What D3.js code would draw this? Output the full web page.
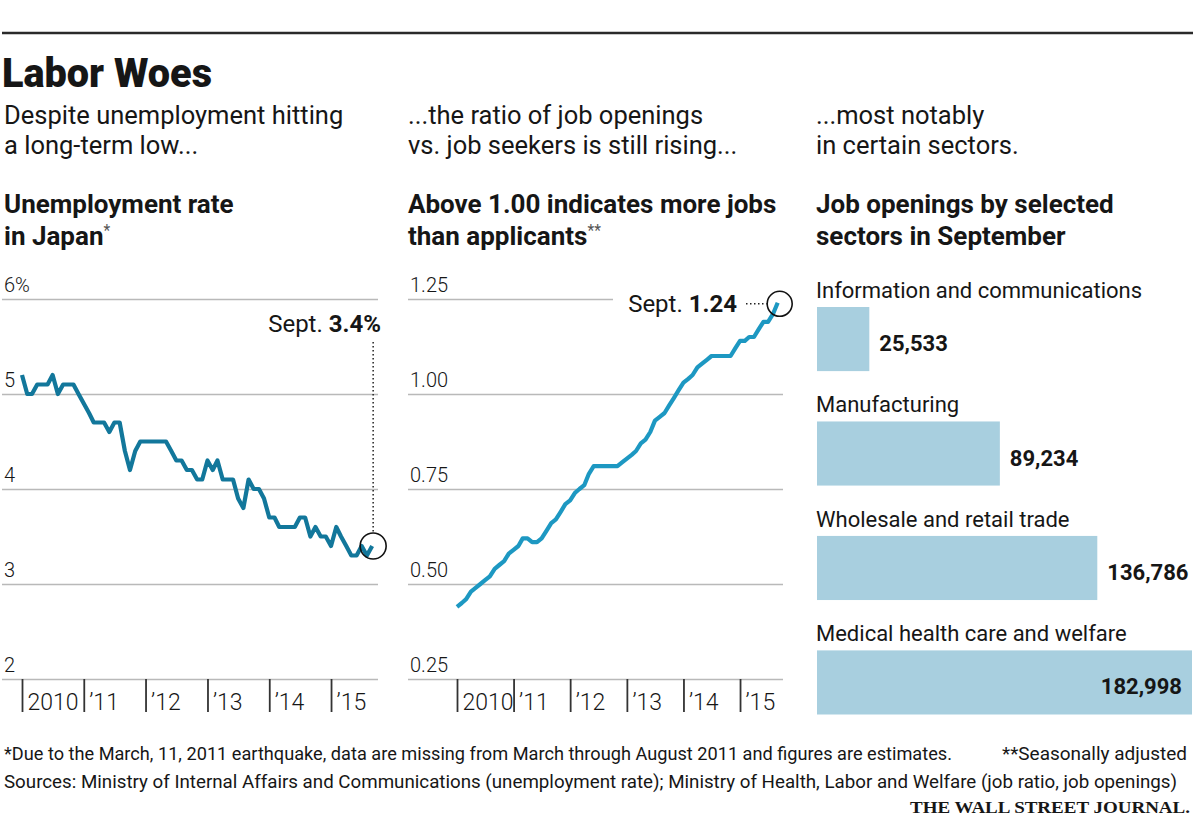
<!DOCTYPE html>
<html>
<head>
<meta charset="utf-8">
<script src="https://cdn.jsdelivr.net/npm/d3@7"></script>
<style>
    body { margin: 0; background: #fff; }
    text { font-family: Roboto, 'Noto Sans', sans-serif; fill: #161616; }
</style>
</head>
<body>
<script>
// monthly series, Jan 2010 - Sept 2015
const startMonth = new Date(2010, 0, 1);

const unemployment = [
    5.2, 5.0, 5.0, 5.1, 5.1, 5.1, 5.2, 5.0, 5.1, 5.1, 5.1, 5.0,
    4.9, 4.8, 4.7, 4.7, 4.7, 4.6, 4.7, 4.7, 4.4, 4.2, 4.4, 4.5,
    4.5, 4.5, 4.5, 4.5, 4.5, 4.4, 4.3, 4.3, 4.2, 4.2, 4.1, 4.1,
    4.3, 4.2, 4.3, 4.1, 4.1, 4.1, 3.9, 3.8, 4.1, 4.0, 4.0, 3.9,
    3.7, 3.7, 3.6, 3.6, 3.6, 3.6, 3.7, 3.7, 3.5, 3.6, 3.5, 3.5,
    3.4, 3.6, 3.5, 3.4, 3.3, 3.3, 3.4, 3.3, 3.4
];

const jobRatio = [
    0.44, 0.45, 0.46, 0.48, 0.49, 0.50, 0.51, 0.52, 0.54, 0.55, 0.56, 0.58,
    0.59, 0.60, 0.62, 0.62, 0.61, 0.61, 0.62, 0.64, 0.66, 0.67, 0.69, 0.71,
    0.72, 0.74, 0.75, 0.76, 0.79, 0.81, 0.81, 0.81, 0.81, 0.81, 0.81, 0.82,
    0.83, 0.84, 0.85, 0.87, 0.88, 0.90, 0.93, 0.94, 0.95, 0.97, 0.99, 1.01,
    1.03, 1.04, 1.05, 1.07, 1.08, 1.09, 1.10, 1.10, 1.10, 1.10, 1.10, 1.12,
    1.14, 1.14, 1.15, 1.15, 1.17, 1.19, 1.19, 1.21, 1.24
];

const yearTicks = [2010, 2011, 2012, 2013, 2014, 2015];
const yearLabels = ['2010', '\u201911', '\u201912', '\u201913', '\u201914', '\u201915'];

const unempTicks = [2, 3, 4, 5, 6];
const unempLabels = ['2', '3', '4', '5', '6%'];

const ratioTicks = [0.25, 0.50, 0.75, 1.00, 1.25];
const ratioLabels = ['0.25', '0.50', '0.75', '1.00', '1.25'];

const sectors = [
    'Information and communications',
    'Manufacturing',
    'Wholesale and retail trade',
    'Medical health care and welfare'
];
const openings = [25533, 89234, 136786, 182998];

const width = 1200;
const height = 824;
const gridColor = '#b9b9b9';

const monthDate = i => d3.timeMonth.offset(startMonth, i);

const svg = d3.select('body').append('svg')
    .attr('width', width)
    .attr('height', height);

// top rule and headline
svg.append('line')
    .attr('x1', 2).attr('x2', 1193)
    .attr('y1', 33).attr('y2', 33)
    .attr('stroke', '#2a2a2a')
    .attr('stroke-width', 2.5);

svg.append('text')
    .attr('x', 2).attr('y', 87)
    .attr('font-size', 41)
    .attr('font-weight', 900)
    .attr('textLength', 210)
    .attr('lengthAdjust', 'spacingAndGlyphs')
    .text('Labor Woes');

function twoLines(x, y, lines, size, weight, gap) {
    const t = svg.append('text')
        .attr('x', x).attr('y', y)
        .attr('font-size', size)
        .attr('font-weight', weight);
    lines.forEach((line, i) => {
        const ts = t.append('tspan')
            .attr('x', x)
            .attr('dy', i === 0 ? 0 : gap);
        ts.append('tspan').text(line[0]);
        if (line[1]) {
            ts.append('tspan')
                .attr('font-size', size * 0.6)
                .attr('font-weight', 400)
                .attr('fill', '#555')
                .attr('dy', -9)
                .text(line[1]);
        }
    });
    return t;
}

twoLines(4, 124, [['Despite unemployment hitting'], ['a long-term low...']], 25.5, 400, 30);
twoLines(408, 124, [['...the ratio of job openings'], ['vs. job seekers is still rising...']], 25.5, 400, 30);
twoLines(816, 124, [['...most notably'], ['in certain sectors.']], 25.5, 400, 30);

twoLines(4, 213, [['Unemployment rate'], ['in Japan', '*']], 26, 700, 32);
twoLines(408, 213, [['Above 1.00 indicates more jobs'], ['than applicants', '**']], 26, 700, 32);
twoLines(816, 213, [['Job openings by selected'], ['sectors in September']], 26, 700, 32);

// shared axis styling
function styleYAxis(g) {
    g.select('.domain').remove();
    g.selectAll('.tick line')
        .attr('stroke', gridColor)
        .attr('stroke-width', 1.6);
    g.selectAll('.tick text')
        .attr('x', 2)
        .attr('y', -8)
        .attr('dy', 0)
        .attr('font-size', 20)
        .attr('font-weight', 300)
        .attr('fill', '#222');
}

function styleXAxis(g) {
    g.select('.domain').remove();
    g.selectAll('.tick line')
        .attr('stroke', '#333')
        .attr('stroke-width', 1.8);
    g.selectAll('.tick text')
        .attr('x', 5)
        .attr('y', 31)
        .attr('dy', 0)
        .attr('text-anchor', 'start')
        .attr('font-size', 23)
        .attr('font-weight', 300)
        .attr('fill', '#111');
}

// left: unemployment rate
const xU = d3.scaleTime()
    .domain([startMonth, new Date(2016, 0, 1)])
    .range([22, 22 + 6 * 61.8]);
const yU = d3.scaleLinear().domain([2, 6]).range([679, 299]);

svg.append('g')
    .attr('transform', 'translate(2,0)')
    .call(d3.axisRight(yU)
        .tickValues(unempTicks)
        .tickSize(376)
        .tickFormat((d, i) => unempLabels[i]))
    .call(styleYAxis);

svg.append('g')
    .attr('transform', `translate(0,${yU(2)})`)
    .call(d3.axisBottom(xU)
        .tickValues(yearTicks.map(y => new Date(y, 0, 1)))
        .tickSize(33)
        .tickFormat((d, i) => yearLabels[i]))
    .call(styleXAxis);

svg.append('path')
    .datum(unemployment)
    .attr('fill', 'none')
    .attr('stroke', '#12779b')
    .attr('stroke-width', 4.2)
    .attr('stroke-linejoin', 'round')
    .attr('d', d3.line()
        .x((d, i) => xU(monthDate(i)))
        .y(d => yU(d)));

const lastU = unemployment.length - 1;
const ucx = xU(monthDate(lastU)) + 1;
const ucy = yU(unemployment[lastU]);

svg.append('line')
    .attr('x1', ucx).attr('x2', ucx)
    .attr('y1', 342).attr('y2', ucy - 13)
    .attr('stroke', '#222')
    .attr('stroke-width', 1.5)
    .attr('stroke-dasharray', '1.5,2.5');

svg.append('circle')
    .attr('cx', ucx).attr('cy', ucy).attr('r', 13)
    .attr('fill', 'none')
    .attr('stroke', '#111')
    .attr('stroke-width', 1.6);

const uNote = svg.append('text')
    .attr('x', 381).attr('y', 332)
    .attr('text-anchor', 'end')
    .attr('font-size', 24);
uNote.append('tspan').text('Sept. ');
uNote.append('tspan').attr('font-weight', 700).text('3.4%');

// middle: job-to-applicant ratio
const xR = d3.scaleTime()
    .domain([startMonth, new Date(2016, 0, 1)])
    .range([457, 457 + 6 * 56.6]);
const yR = d3.scaleLinear().domain([0.25, 1.25]).range([679, 299]);

const ratioAxis = svg.append('g')
    .attr('transform', 'translate(408,0)')
    .call(d3.axisRight(yR)
        .tickValues(ratioTicks)
        .tickSize(375)
        .tickFormat((d, i) => ratioLabels[i]))
    .call(styleYAxis);

// top gridline stops short of the annotation
ratioAxis.selectAll('.tick')
    .filter(d => d === 1.25)
    .select('line')
    .attr('x2', 205);

svg.append('g')
    .attr('transform', `translate(0,${yR(0.25)})`)
    .call(d3.axisBottom(xR)
        .tickValues(yearTicks.map(y => new Date(y, 0, 1)))
        .tickSize(33)
        .tickFormat((d, i) => yearLabels[i]))
    .call(styleXAxis);

svg.append('path')
    .datum(jobRatio)
    .attr('fill', 'none')
    .attr('stroke', '#1d98c2')
    .attr('stroke-width', 4.2)
    .attr('stroke-linejoin', 'round')
    .attr('d', d3.line()
        .x((d, i) => xR(monthDate(i)))
        .y(d => yR(d)));

const lastR = jobRatio.length - 1;
const rcx = xR(monthDate(lastR)) + 2;
const rcy = yR(jobRatio[lastR]) + 1;

svg.append('circle')
    .attr('cx', rcx).attr('cy', rcy).attr('r', 12.5)
    .attr('fill', 'none')
    .attr('stroke', '#111')
    .attr('stroke-width', 1.6);

svg.append('line')
    .attr('x1', 746).attr('x2', rcx - 13)
    .attr('y1', rcy).attr('y2', rcy)
    .attr('stroke', '#222')
    .attr('stroke-width', 1.5)
    .attr('stroke-dasharray', '1.5,2.5');

const rNote = svg.append('text')
    .attr('x', 737).attr('y', 312)
    .attr('text-anchor', 'end')
    .attr('font-size', 24);
rNote.append('tspan').text('Sept. ');
rNote.append('tspan').attr('font-weight', 700).text('1.24');

// right: job openings by sector
const xB = d3.scaleLinear().domain([0, 182998]).range([0, 375]);
const yB = d3.scaleBand()
    .domain(sectors)
    .range([307, 714.5])
    .paddingInner(0.44)
    .paddingOuter(0);

const bars = svg.append('g').attr('transform', 'translate(817,0)');

bars.selectAll('rect')
    .data(openings)
    .enter()
    .append('rect')
    .attr('x', 0)
    .attr('y', (d, i) => yB(sectors[i]))
    .attr('width', d => xB(d))
    .attr('height', yB.bandwidth())
    .attr('fill', '#a8cfdf');

bars.selectAll('text.cat')
    .data(sectors)
    .enter()
    .append('text')
    .attr('class', 'cat')
    .attr('x', -1)
    .attr('y', d => yB(d) - 9)
    .attr('font-size', 22)
    .text(d => d);

bars.selectAll('text.val')
    .data(openings)
    .enter()
    .append('text')
    .attr('class', 'val')
    .attr('x', d => xB(d) > 340 ? xB(d) - 10 : xB(d) + 10)
    .attr('y', (d, i) => yB(sectors[i]) + yB.bandwidth() / 2 + 12)
    .attr('text-anchor', d => xB(d) > 340 ? 'end' : 'start')
    .attr('font-size', 22)
    .attr('font-weight', 700)
    .text(d => d3.format(',')(d));

// footnotes
svg.append('text')
    .attr('x', 4).attr('y', 760)
    .attr('font-size', 19)
    .attr('textLength', 948)
    .attr('lengthAdjust', 'spacingAndGlyphs')
    .attr('fill', '#222')
    .text('*Due to the March, 11, 2011 earthquake, data are missing from March through August 2011 and figures are estimates.');

svg.append('text')
    .attr('x', 1002).attr('y', 760)
    .attr('font-size', 19)
    .attr('textLength', 185)
    .attr('lengthAdjust', 'spacingAndGlyphs')
    .attr('fill', '#222')
    .text('**Seasonally adjusted');

svg.append('text')
    .attr('x', 4).attr('y', 788)
    .attr('font-size', 19)
    .attr('textLength', 1173)
    .attr('lengthAdjust', 'spacingAndGlyphs')
    .attr('fill', '#222')
    .text('Sources: Ministry of Internal Affairs and Communications (unemployment rate); Ministry of Health, Labor and Welfare (job ratio, job openings)');

svg.append('text')
    .attr('x', 910).attr('y', 813)
    .attr('font-size', 17)
    .attr('font-weight', 700)
    .attr('textLength', 280)
    .attr('lengthAdjust', 'spacingAndGlyphs')
    .style('font-family', "'Liberation Serif', 'DejaVu Serif', serif")
    .text('THE WALL STREET JOURNAL.');
</script>
</body>
</html>
